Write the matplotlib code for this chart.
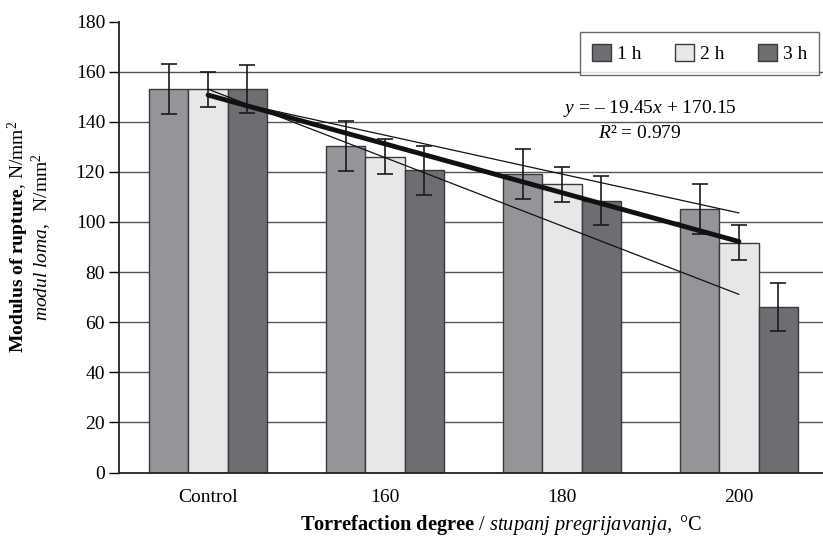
import numpy as np
import matplotlib
matplotlib.use("Agg")
import matplotlib.pyplot as plt
from matplotlib.patches import Patch

# data
categories = ["Control", "160", "180", "200"]
series_labels = ["1 h", "2 h", "3 h"]
mor_1h = [153.0, 130.4, 119.0, 105.1]
mor_2h = [153.0, 126.0, 115.0, 91.7]
mor_3h = [153.0, 120.7, 108.4, 66.1]
err_1h = [10.0, 10.0, 10.0, 10.0]
err_2h = [7.0, 7.0, 7.0, 7.0]
err_3h = [9.7, 9.8, 9.8, 9.7]

colors = ["#939598", "#e6e7e8", "#6d6e71"]
legend_colors = ["#6d6e71", "#e6e7e8", "#6d6e71"]

plt.rcParams["font.family"] = ["Liberation Serif", "DejaVu Serif"]
plt.rcParams["mathtext.fontset"] = "custom"
plt.rcParams["mathtext.rm"] = "Liberation Serif"
plt.rcParams["mathtext.it"] = "Liberation Serif:italic"
plt.rcParams["mathtext.bf"] = "Liberation Serif:bold"
plt.rcParams["font.size"] = 14

fig = plt.figure(figsize=(8.23, 5.38), dpi=100)
ax = fig.add_axes([0.1446, 0.1217, 0.8554, 0.8383])

x = np.arange(len(categories))
w = 0.222
values = [mor_1h, mor_2h, mor_3h]
errors = [err_1h, err_2h, err_3h]
for i, (vals, errs) in enumerate(zip(values, errors)):
    pos = x + (i - 1) * w
    ax.bar(pos, vals, width=w, color=colors[i], edgecolor="#3a3a3a",
           linewidth=1.0, zorder=2)
    ax.errorbar(pos, vals, yerr=errs, fmt="none", ecolor="#1a1a1a",
                elinewidth=1.2, capsize=6, capthick=1.2, zorder=4)

# linear trends (x = 1..4 as in the spreadsheet)
xt = x + 1
for vals, lw in [(mor_1h, 0.9), (mor_3h, 0.9), (mor_2h, 3.5)]:
    k, b = np.polyfit(xt, vals, 1)
    ax.plot([x[0], x[-1]], [k * xt[0] + b, k * xt[-1] + b],
            color="#111111", lw=lw, zorder=5, solid_capstyle="round")

ax.text(2.497, 145.4, "$y$ = – 19.45$x$ + 170.15", ha="center", va="center",
        fontsize=14, zorder=6)
ax.text(2.44, 135.4, "$R$² = 0.979", ha="center", va="center",
        fontsize=14, zorder=6)

ax.set_xlim(-0.503, 3.475)
ax.set_ylim(0, 180)
ax.set_yticks(range(0, 181, 20))
ax.set_xticks(x)
ax.set_xticklabels(categories)
ax.tick_params(axis="x", length=0, pad=12)
ax.tick_params(axis="y", length=7, width=1, direction="out", pad=3)
ax.yaxis.grid(True, color="#555555", linewidth=1.0, zorder=0)
ax.set_axisbelow(True)
ax.yaxis.get_gridlines()[-1].set_visible(False)
ax.yaxis.get_gridlines()[0].set_visible(False)
for s in ["top", "right"]:
    ax.spines[s].set_visible(False)
for s in ["left", "bottom"]:
    ax.spines[s].set_linewidth(1.3)
    ax.spines[s].set_color("#222222")

handles = [Patch(facecolor=c, edgecolor="#3a3a3a", linewidth=1.0)
           for c in legend_colors]
leg = fig.legend(handles, series_labels, loc="upper right",
                 bbox_to_anchor=(0.995, 0.94), ncol=3, frameon=True,
                 fancybox=False, edgecolor="#444444", handlelength=1.0,
                 handleheight=1.0, handletextpad=0.3, columnspacing=1.7,
                 borderpad=0.6, borderaxespad=0.0, fontsize=14)
leg.get_frame().set_linewidth(1.0)

fig.text(0.022, 0.56, r"$\mathbf{Modulus\ of\ rupture}$, N/mm$^2$",
         rotation=90, ha="center", va="center", fontsize=14)
fig.text(0.051, 0.56, r"$\mathit{modul\ loma,}$  N/mm$^2$",
         rotation=90, ha="center", va="center", fontsize=14)
fig.text(0.3645, 0.025, r"$\mathbf{Torrefaction\ degree}$ / $\mathit{stupanj\ pregrijavanja,}$ °C",
         ha="left", va="center", fontsize=14.7)

fig.savefig("out.png", dpi=100)
